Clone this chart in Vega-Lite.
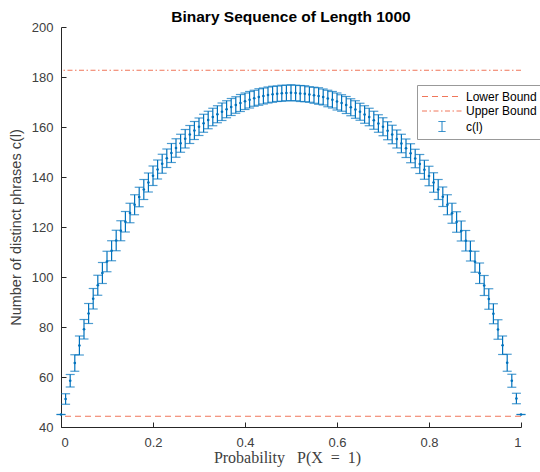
{
  "$schema": "https://vega.github.io/schema/vega-lite/v6.json",
  "width": 460,
  "height": 400,
  "autosize": "none",
  "padding": {"left": 61, "top": 27, "right": 19, "bottom": 45},
  "background": "white",
  "title": {"text": "Binary Sequence of Length 1000", "font": "Liberation Sans", "fontSize": 15.5, "fontWeight": "bold", "color": "#000000", "anchor": "middle", "offset": -16, "baseline": "alphabetic"},
  "config": {
    "view": {"stroke": null},
    "axis": {"grid": false, "domainColor": "#262626", "tickColor": "#262626", "labelColor": "#404040", "titleColor": "#404040", "labelFont": "Liberation Sans", "labelFontSize": 13, "tickSize": -5, "domainWidth": 1, "tickWidth": 1}
  },
  "datasets": {
    "bounds": [
      {"series": "Lower Bound", "value": 44.3},
      {"series": "Upper Bound", "value": 182.7}
    ],
    "cl": [
      {"p": 0.00, "c": 45.0, "sd": 0.0},
      {"p": 0.01, "c": 51.2, "sd": 2.1},
      {"p": 0.02, "c": 58.5, "sd": 2.5},
      {"p": 0.03, "c": 65.6, "sd": 3.3},
      {"p": 0.04, "c": 72.6, "sd": 3.8},
      {"p": 0.05, "c": 79.1, "sd": 3.9},
      {"p": 0.06, "c": 85.4, "sd": 4.0},
      {"p": 0.07, "c": 91.3, "sd": 4.1},
      {"p": 0.08, "c": 96.7, "sd": 4.0},
      {"p": 0.09, "c": 101.6, "sd": 4.2},
      {"p": 0.10, "c": 106.2, "sd": 4.1},
      {"p": 0.11, "c": 110.5, "sd": 4.0},
      {"p": 0.12, "c": 114.6, "sd": 4.1},
      {"p": 0.13, "c": 118.5, "sd": 4.0},
      {"p": 0.14, "c": 122.1, "sd": 4.1},
      {"p": 0.15, "c": 125.6, "sd": 3.9},
      {"p": 0.16, "c": 128.9, "sd": 4.0},
      {"p": 0.17, "c": 132.0, "sd": 3.9},
      {"p": 0.18, "c": 135.0, "sd": 4.0},
      {"p": 0.19, "c": 137.8, "sd": 3.8},
      {"p": 0.20, "c": 140.5, "sd": 3.9},
      {"p": 0.21, "c": 143.0, "sd": 3.8},
      {"p": 0.22, "c": 145.3, "sd": 3.8},
      {"p": 0.23, "c": 147.5, "sd": 3.7},
      {"p": 0.24, "c": 149.6, "sd": 3.8},
      {"p": 0.25, "c": 151.6, "sd": 3.7},
      {"p": 0.26, "c": 153.5, "sd": 3.6},
      {"p": 0.27, "c": 155.3, "sd": 3.7},
      {"p": 0.28, "c": 157.0, "sd": 3.6},
      {"p": 0.29, "c": 158.6, "sd": 3.6},
      {"p": 0.30, "c": 160.1, "sd": 3.5},
      {"p": 0.31, "c": 161.5, "sd": 3.6},
      {"p": 0.32, "c": 162.8, "sd": 3.5},
      {"p": 0.33, "c": 164.0, "sd": 3.5},
      {"p": 0.34, "c": 165.1, "sd": 3.4},
      {"p": 0.35, "c": 166.1, "sd": 3.5},
      {"p": 0.36, "c": 167.1, "sd": 3.4},
      {"p": 0.37, "c": 168.0, "sd": 3.4},
      {"p": 0.38, "c": 168.8, "sd": 3.3},
      {"p": 0.39, "c": 169.6, "sd": 3.4},
      {"p": 0.40, "c": 170.3, "sd": 3.3},
      {"p": 0.41, "c": 170.9, "sd": 3.3},
      {"p": 0.42, "c": 171.5, "sd": 3.2},
      {"p": 0.43, "c": 172.0, "sd": 3.3},
      {"p": 0.44, "c": 172.4, "sd": 3.2},
      {"p": 0.45, "c": 172.8, "sd": 3.2},
      {"p": 0.46, "c": 173.1, "sd": 3.2},
      {"p": 0.47, "c": 173.3, "sd": 3.1},
      {"p": 0.48, "c": 173.5, "sd": 3.2},
      {"p": 0.49, "c": 173.6, "sd": 3.1},
      {"p": 0.50, "c": 173.7, "sd": 3.2},
      {"p": 0.51, "c": 173.6, "sd": 3.1},
      {"p": 0.52, "c": 173.4, "sd": 3.2},
      {"p": 0.53, "c": 173.3, "sd": 3.2},
      {"p": 0.54, "c": 173.0, "sd": 3.1},
      {"p": 0.55, "c": 172.7, "sd": 3.2},
      {"p": 0.56, "c": 172.4, "sd": 3.3},
      {"p": 0.57, "c": 172.0, "sd": 3.2},
      {"p": 0.58, "c": 171.4, "sd": 3.3},
      {"p": 0.59, "c": 170.9, "sd": 3.3},
      {"p": 0.60, "c": 170.2, "sd": 3.4},
      {"p": 0.61, "c": 169.6, "sd": 3.3},
      {"p": 0.62, "c": 168.8, "sd": 3.4},
      {"p": 0.63, "c": 167.9, "sd": 3.4},
      {"p": 0.64, "c": 167.0, "sd": 3.5},
      {"p": 0.65, "c": 166.1, "sd": 3.4},
      {"p": 0.66, "c": 165.0, "sd": 3.5},
      {"p": 0.67, "c": 164.0, "sd": 3.5},
      {"p": 0.68, "c": 162.7, "sd": 3.6},
      {"p": 0.69, "c": 161.4, "sd": 3.5},
      {"p": 0.70, "c": 160.1, "sd": 3.6},
      {"p": 0.71, "c": 158.5, "sd": 3.6},
      {"p": 0.72, "c": 157.0, "sd": 3.7},
      {"p": 0.73, "c": 155.2, "sd": 3.6},
      {"p": 0.74, "c": 153.4, "sd": 3.7},
      {"p": 0.75, "c": 151.5, "sd": 3.7},
      {"p": 0.76, "c": 149.5, "sd": 3.8},
      {"p": 0.77, "c": 147.4, "sd": 3.7},
      {"p": 0.78, "c": 145.2, "sd": 3.8},
      {"p": 0.79, "c": 142.9, "sd": 3.8},
      {"p": 0.80, "c": 140.4, "sd": 3.9},
      {"p": 0.81, "c": 137.8, "sd": 3.9},
      {"p": 0.82, "c": 135.0, "sd": 4.0},
      {"p": 0.83, "c": 132.1, "sd": 3.9},
      {"p": 0.84, "c": 128.9, "sd": 4.0},
      {"p": 0.85, "c": 125.5, "sd": 4.0},
      {"p": 0.86, "c": 122.0, "sd": 4.1},
      {"p": 0.87, "c": 118.4, "sd": 4.0},
      {"p": 0.88, "c": 114.5, "sd": 4.1},
      {"p": 0.89, "c": 110.4, "sd": 4.0},
      {"p": 0.90, "c": 106.1, "sd": 4.2},
      {"p": 0.91, "c": 101.5, "sd": 4.1},
      {"p": 0.92, "c": 96.6, "sd": 4.0},
      {"p": 0.93, "c": 91.2, "sd": 4.1},
      {"p": 0.94, "c": 85.3, "sd": 4.0},
      {"p": 0.95, "c": 79.0, "sd": 3.9},
      {"p": 0.96, "c": 72.7, "sd": 3.7},
      {"p": 0.97, "c": 65.7, "sd": 3.4},
      {"p": 0.98, "c": 58.5, "sd": 2.6},
      {"p": 0.99, "c": 51.4, "sd": 2.1},
      {"p": 1.00, "c": 45.0, "sd": 0.0}
    ]
  },
  "layer": [
    {
      "data": {"name": "bounds"},
      "mark": {"type": "rule", "strokeWidth": 1},
      "encoding": {
        "y": {"field": "value", "type": "quantitative", "title": "Number of distinct phrases c(l)", "scale": {"domain": [40, 200], "nice": false, "zero": false},
          "axis": {"titleFont": "Liberation Sans", "titleFontSize": 14.5, "titleFontWeight": "normal", "values": [40, 60, 80, 100, 120, 140, 160, 180, 200], "labelPadding": 13, "titlePadding": 8}},
        "color": {"field": "series", "type": "nominal",
          "scale": {"domain": ["Lower Bound", "Upper Bound", "c(l)"], "range": ["#f0765a", "#f0765a", "#0072BD"]},
          "legend": {
            "orient": "none", "legendX": 356, "legendY": 58, "title": null,
            "fillColor": "white", "strokeColor": "#999999", "padding": 5,
            "symbolType": "circle", "symbolSize": 144, "symbolStrokeWidth": 1, "symbolOffset": 13.5,
            "labelFont": "Liberation Sans", "labelFontSize": 12, "labelColor": "#000000", "labelOffset": 17.5, "rowPadding": 1.5,
            "encode": {"symbols": {"update": {
              "shape": {"signal": "datum.value === 'c(l)' ? 'M0,-0.833L0,0.833M-0.583,-0.833L0.583,-0.833M-0.583,0.833L0.583,0.833' : 'M-3.333,0L3.333,0'"},
              "strokeDash": {"signal": "datum.value === 'Lower Bound' ? [6,4] : (datum.value === 'Upper Bound' ? [5,2.5,1.5,2.5] : [1,0])"},
              "fill": {"value": "transparent"}
            }}}
          }},
        "strokeDash": {"field": "series", "type": "nominal", "scale": {"domain": ["Lower Bound", "Upper Bound"], "range": [[6, 4], [5, 2.5, 1.5, 2.5]]}, "legend": null}
      }
    },
    {
      "data": {"name": "cl"},
      "mark": {"type": "errorbar", "ticks": {"size": 9, "thickness": 1.2, "color": "#0072BD"}, "rule": {"strokeWidth": 1.2, "color": "#0072BD"}},
      "encoding": {
        "x": {"field": "p", "type": "quantitative", "title": "Probability\u00a0\u00a0\u00a0P(X\u00a0\u00a0=\u00a0\u00a01)", "scale": {"domain": [0, 1], "nice": false},
          "axis": {"titleFont": "Liberation Serif", "titleFontSize": 16, "titleFontWeight": "normal", "values": [0, 0.2, 0.4, 0.6, 0.8, 1], "format": "~g", "labelPadding": 14, "titlePadding": 0, "titleX": 226}},
        "y": {"field": "c", "type": "quantitative", "title": "Number of distinct phrases c(l)"},
        "yError": {"field": "sd"}
      }
    },
    {
      "data": {"name": "cl"},
      "mark": {"type": "point", "filled": true, "size": 7, "color": "#0072BD", "opacity": 1},
      "encoding": {
        "x": {"field": "p", "type": "quantitative", "title": "Probability\u00a0\u00a0\u00a0P(X\u00a0\u00a0=\u00a0\u00a01)"},
        "y": {"field": "c", "type": "quantitative", "title": "Number of distinct phrases c(l)"}
      }
    }
  ]
}
